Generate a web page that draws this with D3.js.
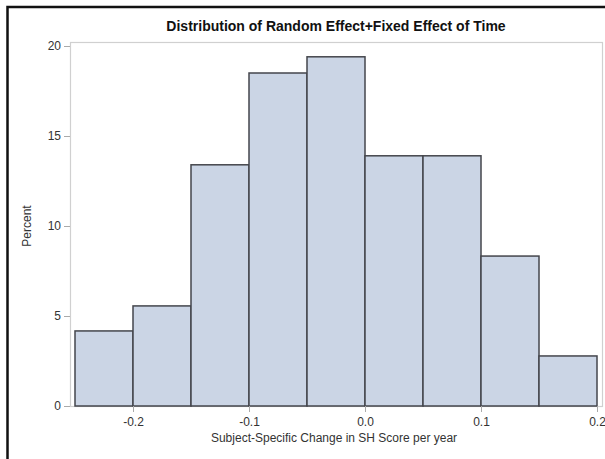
<!DOCTYPE html>
<html>
<head>
<meta charset="utf-8">
<script src="https://cdn.jsdelivr.net/npm/d3@7"></script>
<style>
  body { margin: 0; background: #fff; }
  svg { display: block; font-family: "Liberation Sans", Arial, sans-serif; }
</style>
</head>
<body>
<div id="chart"></div>
<script>
// Histogram bins (left edges) and percentages
var binStarts = [-0.25, -0.2, -0.15, -0.1, -0.05, 0.0, 0.05, 0.1, 0.15];
var binWidth = 0.05;
var percents = [4.17, 5.56, 13.4, 18.5, 19.4, 13.9, 13.9, 8.33, 2.78];
var xTicks = [-0.2, -0.1, 0.0, 0.1, 0.2];
var yTicks = [0, 5, 10, 15, 20];

var W = 605, H = 459;
var frame = { left: 70, right: 602, top: 42, bottom: 406 };

var svg = d3.select("#chart").append("svg")
    .attr("width", W)
    .attr("height", H);

// outer border of the screenshot
svg.append("rect")
    .attr("x", 7.5).attr("y", 7)
    .attr("width", 620).attr("height", 480)
    .attr("fill", "none")
    .attr("stroke", "#111")
    .attr("stroke-width", 2.5);

var x = d3.scaleLinear().domain([-0.25, 0.2]).range([75, 597]);
var y = d3.scaleLinear().domain([0, 20]).range([406, 46]);

// plot frame
svg.append("rect")
    .attr("x", frame.left + 0.5).attr("y", frame.top + 0.5)
    .attr("width", frame.right - frame.left).attr("height", frame.bottom - frame.top)
    .attr("fill", "none")
    .attr("stroke", "#d0d0d0")
    .attr("stroke-width", 1.2);

// bars
svg.selectAll(".bar")
    .data(binStarts)
    .enter().append("rect")
    .attr("class", "bar")
    .attr("x", function(d) { return x(d); })
    .attr("y", function(d, i) { return y(percents[i]); })
    .attr("width", function(d) { return x(d + binWidth) - x(d); })
    .attr("height", function(d, i) { return y(0) - y(percents[i]); })
    .attr("fill", "#cbd5e5")
    .attr("stroke", "#44464c")
    .attr("stroke-width", 1.5);

// axes
var xAxis = d3.axisBottom(x).tickValues(xTicks).tickSize(6).tickSizeOuter(0);
var yAxis = d3.axisLeft(y).tickValues(yTicks).tickFormat(d3.format("d")).tickSize(6).tickSizeOuter(0);

var gx = svg.append("g").attr("transform", "translate(0," + frame.bottom + ")").call(xAxis);
var gy = svg.append("g").attr("transform", "translate(" + frame.left + ",0)").call(yAxis);

[gx, gy].forEach(function(g) {
  g.select(".domain").remove();
  g.selectAll(".tick line").attr("stroke", "#aaa");
  g.selectAll(".tick text")
      .attr("fill", "#333")
      .style("font-size", "12px");
});
gx.selectAll(".tick text")
    .attr("y", 11)
    .text(function(d) { return d3.format(".1f")(d).replace("−", "-"); });
gy.selectAll(".tick text").attr("x", -9);

// title
svg.append("text")
    .attr("x", 336).attr("y", 31)
    .attr("text-anchor", "middle")
    .style("font-size", "14px")
    .style("font-weight", "bold")
    .attr("fill", "#111")
    .text("Distribution of Random Effect+Fixed Effect of Time");

// axis labels
svg.append("text")
    .attr("x", 334).attr("y", 442)
    .attr("text-anchor", "middle")
    .style("font-size", "12px")
    .attr("fill", "#333")
    .text("Subject-Specific Change in SH Score per year");

svg.append("text")
    .attr("transform", "translate(31,226) rotate(-90)")
    .attr("text-anchor", "middle")
    .style("font-size", "12px")
    .attr("fill", "#333")
    .text("Percent");
</script>
</body>
</html>
